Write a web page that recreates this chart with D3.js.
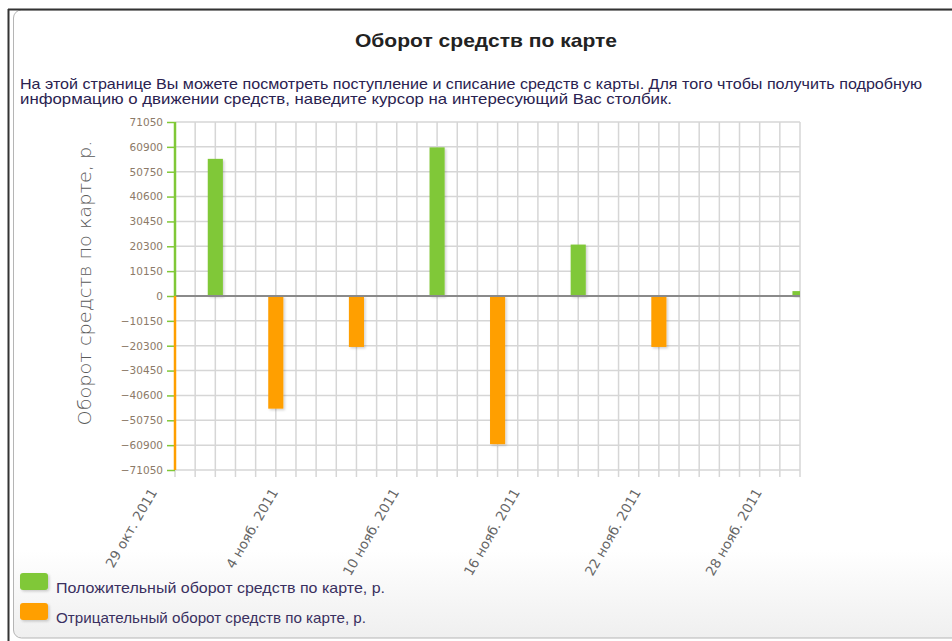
<!DOCTYPE html>
<html>
<head>
<meta charset="utf-8">
<script src="https://cdn.jsdelivr.net/npm/d3@7"></script>
<style>
  html, body { margin: 0; padding: 0; background: #fff; }
  svg { display: block; }
</style>
</head>
<body>
<svg id="chart" width="952" height="641"></svg>
<script>
// Daily card turnover, roubles
const dates = ["2011-10-31", "2011-11-03", "2011-11-07", "2011-11-11", "2011-11-14", "2011-11-18", "2011-11-22", "2011-11-29"];
const amounts = [56000, -46000, -20800, 60700, -60500, 21000, -20800, 2000];

const yTicks = [71050, 60900, 50750, 40600, 30450, 20300, 10150, 0, -10150, -20300, -30450, -40600, -50750, -60900, -71050];
const xTickDates = ["2011-10-29", "2011-11-04", "2011-11-10", "2011-11-16", "2011-11-22", "2011-11-28"];
const xRange = ["2011-10-29", "2011-11-29"];

const monthShort = ["янв.", "февр.", "марта", "апр.", "мая", "июня", "июля", "авг.", "сент.", "окт.", "нояб.", "дек."];

const titleText = "Оборот средств по карте";
const introLines = [
  "На этой странице Вы можете посмотреть поступление и списание средств с карты. Для того чтобы получить подробную",
  "информацию о движении средств, наведите курсор на интересующий Вас столбик."
];
const yTitle = "Оборот средств по карте, р.";
const legendItems = ["Положительный оборот средств по карте, р.", "Отрицательный оборот средств по карте, р."];

const GREEN = "#80c837";
const ORANGE = "#ff9f00";

const parse = d3.utcParse("%Y-%m-%d");
const svg = d3.select("#chart");

// ---- Frame ----
const defs = svg.append("defs");
const grad = defs.append("linearGradient").attr("id", "panelGrad").attr("x1", 0).attr("y1", 0).attr("x2", 0).attr("y2", 1);
grad.append("stop").attr("offset", "0").attr("stop-color", "#ffffff");
grad.append("stop").attr("offset", "0.86").attr("stop-color", "#ffffff");
grad.append("stop").attr("offset", "1").attr("stop-color", "#efefef");

svg.append("rect").attr("x", 13.5).attr("y", 10).attr("width", 960).attr("height", 628)
  .attr("rx", 8).attr("fill", "url(#panelGrad)").attr("stroke", "#b5b5b5").attr("stroke-width", 1);
svg.append("line").attr("x1", 8).attr("x2", 952).attr("y1", 9.5).attr("y2", 9.5).attr("stroke", "#333").attr("stroke-width", 2);
svg.append("line").attr("x1", 8.5).attr("x2", 8.5).attr("y1", 9).attr("y2", 641).attr("stroke", "#333").attr("stroke-width", 2);

// ---- Header texts ----
svg.append("text").attr("x", 486).attr("y", 47).attr("text-anchor", "middle")
  .attr("textLength", 262).attr("lengthAdjust", "spacingAndGlyphs")
  .style("font-family", "Liberation Sans, Arial, sans-serif").style("font-weight", "bold").style("font-size", "19px")
  .attr("fill", "#222").text(titleText);

svg.selectAll("text.intro").data(introLines).join("text").attr("class", "intro")
  .attr("x", 20).attr("y", (d, i) => 89 + i * 15)
  .attr("textLength", (d, i) => i === 0 ? 902 : 652).attr("lengthAdjust", "spacingAndGlyphs")
  .style("font-family", "Liberation Sans, Arial, sans-serif").style("font-size", "14.5px")
  .attr("fill", "#2a2250").text(d => d);

// ---- Scales ----
const plot = { left: 175, right: 800, top: 122, bottom: 470 };
const x = d3.scaleUtc().domain(xRange.map(parse)).range([plot.left, plot.right]);
const y = d3.scaleLinear().domain([-71050, 71050]).range([plot.bottom, plot.top]);
const dayStep = x(parse("2011-10-30")) - x(parse("2011-10-29"));
const barW = dayStep * 0.75;

// ---- Grid ----
const allDays = d3.utcDay.range(parse(xRange[0]), d3.utcDay.offset(parse(xRange[1]), 1));
svg.append("g").selectAll("line").data(allDays).join("line")
  .attr("x1", d => x(d)).attr("x2", d => x(d))
  .attr("y1", plot.top).attr("y2", plot.bottom + 7)
  .attr("stroke", "#d6d6d6").attr("stroke-width", 1.5);

svg.append("g").selectAll("line").data(yTicks).join("line")
  .attr("x1", plot.left).attr("x2", plot.right)
  .attr("y1", d => y(d)).attr("y2", d => y(d))
  .attr("stroke", "#d6d6d6").attr("stroke-width", 1.5);

// ---- Bars ----
defs.append("clipPath").attr("id", "plotClip").append("rect")
  .attr("x", plot.left).attr("y", plot.top - 2).attr("width", plot.right - plot.left).attr("height", plot.bottom - plot.top + 4);
const shadow = defs.append("filter").attr("id", "barShadow").attr("x", "-20%").attr("y", "-20%").attr("width", "150%").attr("height", "150%");
shadow.append("feDropShadow").attr("dx", 1.5).attr("dy", 1.5).attr("stdDeviation", 1).attr("flood-color", "#000").attr("flood-opacity", 0.18);

const bars = dates.map((d, i) => ({ date: parse(d), value: amounts[i] }));
svg.append("g").attr("clip-path", "url(#plotClip)")
  .selectAll("rect").data(bars).join("rect")
  .attr("x", d => x(d.date) - barW / 2).attr("width", barW)
  .attr("y", d => y(Math.max(0, d.value))).attr("height", d => Math.abs(y(d.value) - y(0)))
  .attr("fill", d => d.value >= 0 ? GREEN : ORANGE)
  .attr("filter", "url(#barShadow)");

// zero line
svg.append("line").attr("x1", plot.left).attr("x2", plot.right).attr("y1", y(0)).attr("y2", y(0))
  .attr("stroke", "#8a8a8a").attr("stroke-width", 2);

// ---- Y axis ----
const yAxis = d3.axisLeft(y).tickValues(yTicks).tickSize(8).tickPadding(4).tickFormat(d3.format("d"));
const yg = svg.append("g").attr("transform", `translate(${plot.left},0)`).call(yAxis);
yg.select(".domain").remove();
yg.selectAll(".tick line").attr("stroke", GREEN).attr("stroke-width", 1.5);
yg.selectAll(".tick text").attr("fill", "#8c7a68")
  .style("font-family", "DejaVu Sans, Verdana, sans-serif").style("font-size", "10.5px");
svg.append("line").attr("x1", plot.left).attr("x2", plot.left).attr("y1", y(71050)).attr("y2", y(0))
  .attr("stroke", GREEN).attr("stroke-width", 2.5);
svg.append("line").attr("x1", plot.left).attr("x2", plot.left).attr("y1", y(0)).attr("y2", y(-71050))
  .attr("stroke", ORANGE).attr("stroke-width", 2.5);

svg.append("text").attr("transform", `translate(91,${283}) rotate(-90)`).attr("text-anchor", "middle")
  .attr("textLength", 285).attr("lengthAdjust", "spacingAndGlyphs")
  .style("font-family", "DejaVu Sans, Verdana, sans-serif").style("font-size", "18px").style("font-weight", "300")
  .attr("fill", "#5a5a5a").text(yTitle);

// ---- X axis labels ----
const fmtDate = d => `${d.getUTCDate()} ${monthShort[d.getUTCMonth()]} ${d.getUTCFullYear()}`;
const xAxis = d3.axisBottom(x).tickValues(xTickDates.map(parse)).tickSize(0).tickFormat(fmtDate);
const xg = svg.append("g").attr("transform", `translate(0,${plot.bottom})`).call(xAxis);
xg.select(".domain").remove();
xg.selectAll(".tick text")
  .attr("text-anchor", "end").attr("x", -18).attr("y", 22).attr("dy", 0)
  .attr("transform", "rotate(-60, -18, 22)")
  .attr("fill", "#666")
  .style("font-family", "DejaVu Sans, Verdana, sans-serif").style("font-size", "13.5px");

// ---- Legend ----
const legend = svg.append("g").selectAll("g").data(legendItems).join("g")
  .attr("transform", (d, i) => `translate(20,${573 + i * 30})`);
legend.append("rect").attr("width", 28).attr("height", 17).attr("rx", 3)
  .attr("fill", (d, i) => i === 0 ? GREEN : ORANGE).attr("filter", "url(#barShadow)");
legend.append("text").attr("x", 36).attr("y", 20)
  .attr("textLength", (d, i) => i === 0 ? 329 : 310).attr("lengthAdjust", "spacingAndGlyphs")
  .style("font-family", "Liberation Sans, Arial, sans-serif").style("font-size", "15px")
  .attr("fill", "#3a3060").text(d => d);
</script>
</body>
</html>
